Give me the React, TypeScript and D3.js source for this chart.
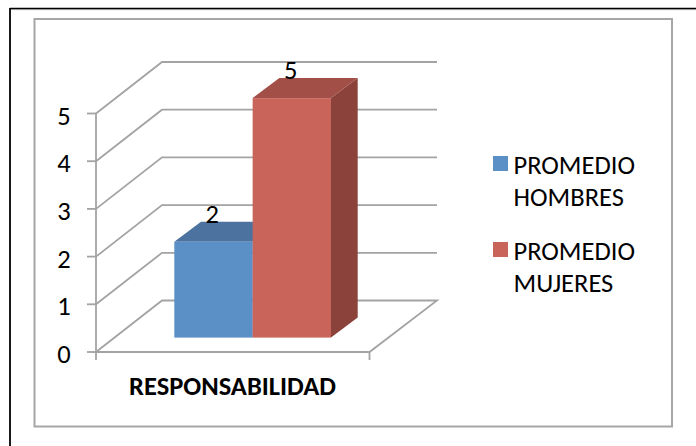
import React from "react";
import * as d3 from "d3";

const categories = ["RESPONSABILIDAD"];
const seriesNames = [["PROMEDIO", "HOMBRES"], ["PROMEDIO", "MUJERES"]];
const seriesValues = [2, 5];
const tickValues = [0, 1, 2, 3, 4, 5];
const frontColors = ["#5b90c6", "#c9645b"];
const topColors = ["#4c729f", "#a24f48"];
const sideColors = ["#3f5f86", "#8a423b"];

const FONT = "Carlito, Calibri, 'Open Sans', 'Noto Sans', sans-serif";
const GRID = "#a3a3a3";

export default function App() {
  const y = d3.scaleLinear().domain([0, 5]).range([352, 113.5]);
  const dx = 66, dy = -51.5;
  const floorLeft = 96, floorRight = 369.5;
  const x = d3.scaleBand().domain(["0", "1"]).range([174.3, 331]).padding(0);
  const baseY = 337.6;
  const barH = d3.scaleLinear().domain([0, 5]).range([0, 239.5]);
  const bdx = 26.7, bdy = -20;
  return (
    <svg width={696} height={446} style={{ position: "absolute", left: 0, top: 0, background: "#fff" }}>
      <line x1={10} x2={696} y1={8.5} y2={8.5} stroke="#000" strokeWidth={1.6} />
      <line x1={696} x2={10} y1={9.6} y2={9.6} stroke="#888" strokeWidth={0.8} />
      <line x1={10} x2={10} y1={8} y2={446} stroke="#000" strokeWidth={1.8} />
      <rect x={34.5} y={19} width={637.5} height={407.5} fill="#fff" stroke="#a6a6a6" strokeWidth={2} />
      {tickValues.map((t) => (
        <g key={t}>
          {t > 0 && (
            <polyline
              points={`${floorLeft},${y(t)} ${floorLeft + dx},${y(t) + dy} ${floorLeft + dx + 275},${y(t) + dy}`}
              fill="none" stroke={GRID} strokeWidth={1.8}
            />
          )}
          <line x1={87} x2={floorLeft} y1={y(t)} y2={y(t)} stroke={GRID} strokeWidth={1.8} />
          <text x={64} y={y(t) + 11} fontFamily={FONT} fontSize={26.5} textAnchor="middle" fill="#000">{t}</text>
        </g>
      ))}
      <line x1={floorLeft} x2={floorLeft} y1={y(5)} y2={360} stroke={GRID} strokeWidth={1.8} />
      <polygon
        points={`${floorLeft},${y(0)} ${floorLeft + dx},${y(0) + dy} ${floorLeft + dx + 275},${y(0) + dy} ${floorRight},${y(0)}`}
        fill="none" stroke={GRID} strokeWidth={1.8}
      />
      <line x1={floorRight} x2={floorRight} y1={y(0)} y2={360} stroke={GRID} strokeWidth={1.8} />
      {seriesValues.map((v, i) => {
        const x0 = x(String(i))!;
        const w = x.bandwidth();
        const top = baseY - barH(v);
        return (
          <g key={i}>
            <polygon points={`${x0 + w},${top} ${x0 + w + bdx},${top + bdy} ${x0 + w + bdx},${baseY + bdy} ${x0 + w},${baseY}`} fill={sideColors[i]} />
            <polygon points={`${x0},${top} ${x0 + bdx},${top + bdy} ${x0 + w + bdx},${top + bdy} ${x0 + w},${top}`} fill={topColors[i]} />
            <rect x={x0} y={top} width={w} height={baseY - top} fill={frontColors[i]} />
            <text x={x0 + 38} y={top - 19} fontFamily={FONT} fontSize={26.5} textAnchor="middle" fill="#000">{v}</text>
          </g>
        );
      })}
      <text x={232.5} y={394.5} fontFamily={FONT} fontSize={26.5} fontWeight={700} textAnchor="middle" fill="#000">{categories[0]}</text>
      {seriesNames.map((lines, i) => {
        const ly = 156 + i * 86;
        return (
          <g key={i}>
            <rect x={493} y={ly} width={15} height={15} fill={frontColors[i]} />
            {lines.map((s, j) => (
              <text key={j} x={513.5} y={ly + 18.3 + j * 32} fontFamily={FONT} fontSize={26.5} fill="#000">{s}</text>
            ))}
          </g>
        );
      })}
    </svg>
  );
}
